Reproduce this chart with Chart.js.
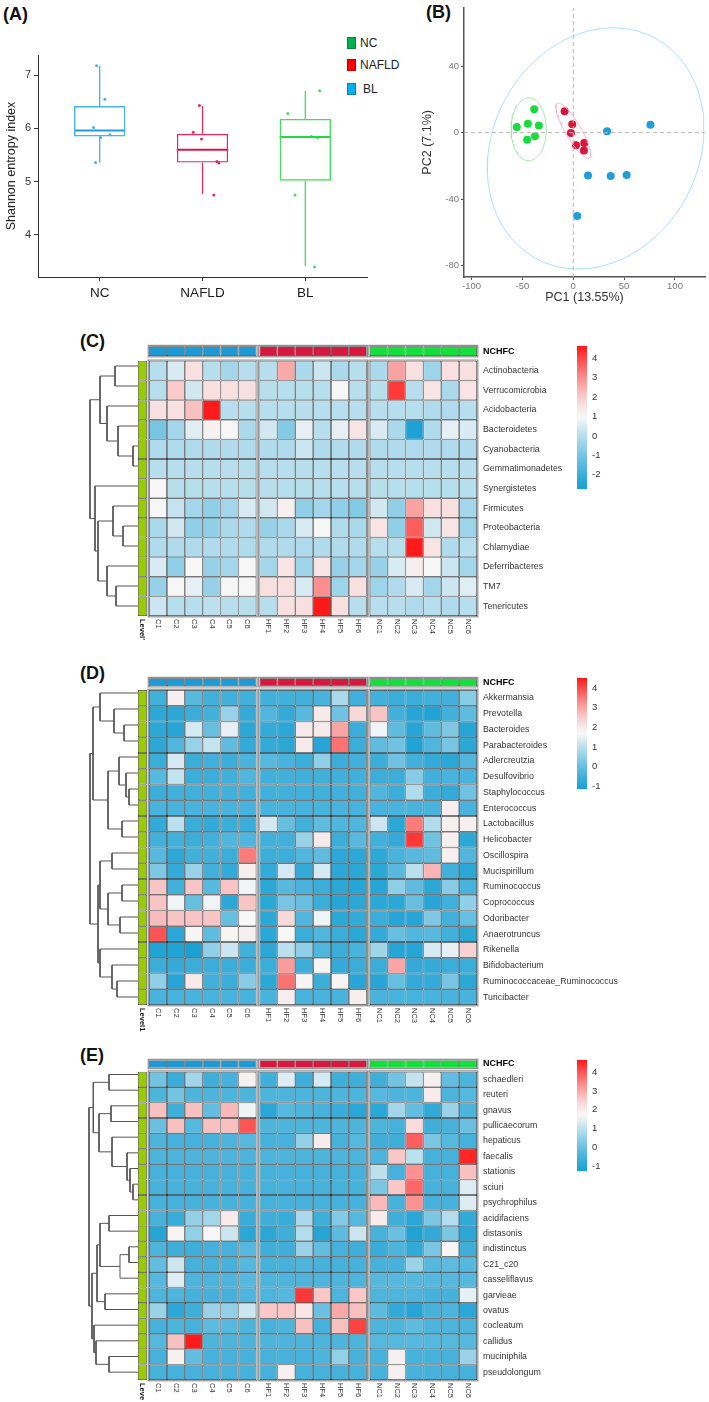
<!DOCTYPE html>
<html>
<head>
<meta charset="utf-8">
<script src="https://cdn.jsdelivr.net/npm/chart.js@4.4.0/dist/chart.umd.min.js"></script>
<style>
  body { margin: 0; background: #fff; width: 709px; height: 1402px; position: relative; overflow: hidden;
         font-family: "Liberation Sans", Arial, sans-serif; }
  canvas { position: absolute; }
  .tag { position: absolute; font-weight: bold; font-size: 18px; line-height: 1; color: #111; }
  .leg { position: absolute; font-size: 12px; line-height: 1; color: #222; }
  .leg i { position: absolute; left: -13px; top: 0; width: 7px; height: 10px; border: 0.5px solid rgba(0,0,0,0.25); }
</style>
</head>
<body>
<div class="tag" style="left:3px;top:5px">(A)</div>
<div class="tag" style="left:426px;top:3px">(B)</div>
<div class="tag" style="left:80px;top:332px">(C)</div>
<div class="tag" style="left:80px;top:664px">(D)</div>
<div class="tag" style="left:80px;top:1046px">(E)</div>

<div class="leg" style="left:360px;top:37px"><i style="background:#00b050"></i>NC</div>
<div class="leg" style="left:360px;top:59px"><i style="background:#ff0000"></i>NAFLD</div>
<div class="leg" style="left:363px;top:83px"><i style="background:#00b0f0;left:-16px"></i>BL</div>

<canvas id="boxChart" width="420" height="300" style="left:0;top:0"></canvas>
<canvas id="pcaChart" width="289" height="305" style="left:420px;top:0"></canvas>

<canvas id="dendroC" width="98" height="280" style="left:40px;top:336px"></canvas>
<canvas id="heatC" width="500" height="316" style="left:130px;top:330px"></canvas>
<canvas id="cbarC" width="45" height="165" style="left:570px;top:335px"></canvas>

<canvas id="dendroD" width="98" height="336" style="left:40px;top:669px"></canvas>
<canvas id="heatD" width="500" height="372" style="left:130px;top:663px"></canvas>
<canvas id="cbarD" width="45" height="133" style="left:570px;top:667px"></canvas>

<canvas id="dendroE" width="98" height="329" style="left:40px;top:1051px"></canvas>
<canvas id="heatE" width="500" height="357" style="left:130px;top:1045px"></canvas>
<canvas id="cbarE" width="45" height="133" style="left:570px;top:1049px"></canvas>

<script>
// ---- (A) Shannon entropy boxplot ----
const groups = ["NC", "NAFLD", "BL"];
const boxMin = [5.36, 4.77, 3.41];
const boxQ1 = [5.85, 5.36, 5.02];
const boxMedian = [5.96, 5.6, 5.84];
const boxQ3 = [6.42, 5.9, 6.18];
const boxMax = [7.18, 6.42, 6.71];
const ncValues = [7.18, 6.55, 6.02, 5.88, 5.83, 5.36];
const ncJitter = [-0.03, 0.05, -0.06, 0.1, 0.01, -0.04];
const nafldValues = [6.43, 5.93, 5.8, 5.38, 5.35, 4.75];
const nafldJitter = [-0.03, -0.09, -0.01, 0.14, 0.16, 0.11];
const blValues = [6.71, 6.28, 5.85, 5.83, 4.75, 3.4];
const blJitter = [0.14, -0.17, 0.06, 0.12, -0.1, 0.09];

// ---- (B) PCA ----
const pcaGreenX = [-55.5, -44.6, -38.4, -33.8, -37.7, -45.3];
const pcaGreenY = [3.4, 5.3, 14.1, 4.3, -2.2, -4.3];
const pcaRedX = [-8.5, -1, -2.3, 2.7, 10.8, 10.5];
const pcaRedY = [12.9, 5.1, -0.2, -7.6, -6.3, -10.8];
const pcaBlueX = [33.2, 75.9, 14.5, 36.8, 52.5, 3.9];
const pcaBlueY = [0.8, 4.7, -25.9, -26.1, -25.5, -50.2];
// ellipses: centre + two conjugate semi-axis vectors (green, red, blue)
const ellipseCx = [-43.8, 0, 22];
const ellipseCy = [2, 1.2, -9.5];
const ellipseAx = [17.3, 15.7, 106];
const ellipseAy = [0, -16.4, 5];
const ellipseBx = [0, 6.8, 10];
const ellipseBy = [19, 2.35, 72.5];

// ---- heatmaps ----
const colLabels = ["C1", "C2", "C3", "C4", "C5", "C6", "HF1", "HF2", "HF3", "HF4", "HF5", "HF6",
  "NC1", "NC2", "NC3", "NC4", "NC5", "NC6"];
const scaleLow = [-2.75, -1.15, -1.25];
const scaleHigh = [4.65, 4.53, 4.65];
const scaleTicks = [[-2, -1, 0, 1, 2, 3, 4], [-1, 0, 1, 2, 3, 4], [-1, 0, 1, 2, 3, 4]];

const phylumRows = ["Actinobacteria", "Verrucomicrobia", "Acidobacteria", "Bacteroidetes", "Cyanobacteria",
  "Gemmatimonadetes", "Synergistetes", "Firmicutes", "Proteobacteria", "Chlamydiae", "Deferribacteres", "TM7", "Tenericutes"];
const phylumValues = [
  [0, 0.5, 1.6, 0, -0.3, 0, 0, 2.6, -0.2, 0.3, -0.2, 0, -0.2, 2.7, 1.6, -0.4, 1.6, 1.6],
  [0, 2.0, 0.4, 1.6, 1.6, 1.6, 0, 0, 0, 0, 1.0, 0, 0, 4.2, 0, 1.5, -0.2, 1.5],
  [1.6, 1.6, 2.2, 4.6, 0, 0, 0, 0, 0, 0, 0, 0, 0, 0, 0, -0.1, -0.1, 0],
  [-1.0, -0.3, 0.6, 1.2, 1.0, -0.2, 0.4, -0.8, 0.7, 0, 0.7, 1.5, 0.5, -0.2, -2.6, -0.1, 0.7, 0.5],
  [-0.1, -0.1, -0.1, -0.1, -0.1, -0.1, -0.1, -0.1, 0.3, -0.1, -0.1, -0.1, -0.1, -0.1, -0.1, -0.1, -0.1, -0.1],
  [0, 0, 0, 0, 0, 0, 0, 0, 0, 0, 0, 0, 0, 0, 0, 0, 0, 0],
  [1.0, 0, 0, 0, 0, 0, 0, 0, 0, 0, 0, 0, 0, 0, 0, 0, 0, 0],
  [1.0, 0.2, -0.3, -0.6, -0.3, 0.5, 0.4, 1.2, -0.6, -0.3, -0.6, -0.8, 0.4, -0.6, 2.7, 1.6, 1.6, -0.3],
  [-0.2, 0.4, -0.6, -0.6, -0.2, -0.1, -0.5, -0.2, 0.5, 1.0, -0.1, -0.2, 1.5, -0.6, 3.7, 0.4, 1.5, -0.4],
  [-0.1, -0.1, -0.1, -0.1, -0.1, -0.1, -0.1, -0.1, -0.1, -0.1, -0.1, -0.1, 0, 0, 4.6, 1.5, -0.1, 0],
  [0.5, -0.6, 1.0, -0.5, -0.3, 1.0, -0.3, 1.5, -0.4, 1.5, -0.5, -0.3, -0.5, 0.5, 1.3, 1.0, 0.3, -0.3],
  [-0.5, 1.0, 0.7, -0.5, 1.0, 1.0, 1.6, 1.6, 0.5, 3.0, -0.4, 1.6, -0.4, -0.1, 0.5, -0.3, 0.3, 0.6],
  [0.3, 0, 0, 0.1, 0, 0, 0, 1.6, 1.6, 4.6, 1.6, 0, 0, 0, -0.1, 0, -0.1, 0],
];

const genusRows = ["Akkermansia", "Prevotella", "Bacteroides", "Parabacteroides", "Adlercreutzia", "Desulfovibrio",
  "Staphylococcus", "Enterococcus", "Lactobacillus", "Helicobacter", "Oscillospira", "Mucispirillum", "Ruminococcus",
  "Coprococcus", "Odoribacter", "Anaerotruncus", "Rikenella", "Bifidobacterium", "Ruminococcaceae_Ruminococcus", "Turicibacter"];
const genusValues = [
  [-0.5, 1.9, -0.2, -0.5, -0.5, -0.5, -0.5, -0.5, -0.5, -0.4, 0.8, -0.5, -0.5, -0.6, -0.6, -0.5, -0.5, 0.4],
  [-0.8, -0.8, -0.6, -0.5, 0.6, -0.7, -0.3, -0.7, -0.2, 2.0, 0.1, 2.3, 2.6, -0.5, -0.9, -1.0, -0.5, -0.1],
  [-0.8, -0.9, 1.3, 0.0, 1.5, -0.8, -0.7, -0.8, 2.0, 2.0, 3.0, -0.6, 1.6, -0.1, -0.9, -0.1, 0.3, -0.9],
  [-0.8, -0.3, 0.6, 1.1, -0.1, -0.7, -0.7, -0.8, 2.0, -0.9, 3.6, -0.6, -0.1, 0.1, -1.0, -0.3, 0.2, -0.8],
  [-0.6, 1.3, -0.6, -0.5, -0.6, -0.4, -0.2, -0.4, -0.6, 0.5, -0.6, -0.5, -0.6, 0.1, -0.5, -0.7, -0.8, -0.3],
  [-0.2, 1.1, -0.6, -0.6, -0.5, -0.3, -0.5, -0.5, -0.5, -0.5, -0.5, -0.5, -0.6, -0.6, 0.4, -0.5, -0.4, -0.4],
  [-0.6, -0.5, -0.5, -0.5, -0.5, -0.5, -0.5, -0.5, -0.5, -0.5, -0.5, -0.5, -0.3, -0.6, 0.9, -0.6, -0.7, 0.1],
  [-0.4, -0.4, -0.4, -0.4, -0.4, -0.4, -0.4, -0.4, -0.4, -0.4, -0.4, -0.4, -0.4, -0.4, -0.4, -0.4, 1.9, -0.4],
  [-0.7, 1.0, -0.6, -0.7, -0.6, -0.6, 1.3, 0.0, -0.5, -0.1, -0.3, -0.3, 1.2, -0.8, 3.5, 0.9, 1.9, 1.9],
  [-0.5, -0.5, -0.6, -0.5, -0.3, -0.3, -0.5, -0.5, 0.6, 2.0, -0.6, -0.2, -0.5, -0.7, 4.2, 0.1, 1.9, -0.8],
  [-0.2, -0.8, -0.5, -0.5, -0.6, 3.5, -0.6, -0.6, -0.3, -0.1, -0.8, -0.8, -0.8, -0.4, -0.2, -0.1, 1.9, -0.3],
  [0.3, -0.7, 0.6, -0.5, -0.7, 1.9, -0.7, 1.3, -0.7, 1.3, -0.8, -0.8, -0.8, -0.2, 1.0, 2.8, -0.5, -0.8],
  [2.6, -0.5, 2.6, -0.2, 2.6, 1.6, -0.8, -0.2, -0.4, -0.6, -0.8, -0.9, -0.9, 0.5, -0.1, -0.8, 0.4, -0.4],
  [2.6, 1.6, 0.0, 1.6, -0.8, 2.6, -0.8, 0.2, 0.0, -0.6, -0.9, -0.8, -0.8, -0.8, 0.0, -0.9, -0.5, 0.5],
  [2.7, 2.6, 2.6, 2.6, 0.0, 1.7, -0.8, 2.3, -0.3, 1.6, -0.8, -0.7, -0.6, -0.9, -0.9, 0.3, -0.5, 0.0],
  [3.9, -0.8, 1.8, -0.1, 1.8, 1.9, -0.8, 1.7, -0.6, -0.3, -0.6, -0.8, -0.7, 0.0, -0.3, -0.2, -0.5, -0.8],
  [-1.0, -1.0, -1.1, 0.5, 1.2, -0.5, -0.8, 1.0, 0.5, -0.3, -0.6, -0.4, 0.7, -0.9, -0.9, 1.3, 1.5, 2.4],
  [-0.6, -0.7, -0.6, -0.6, -0.6, -0.6, -0.6, 3.1, -0.6, 1.8, -0.7, -0.6, -0.6, 3.0, -0.7, -0.7, -0.6, -0.6],
  [0.5, -0.9, 2.0, -0.5, -0.6, 0.4, -0.8, 3.6, 1.8, -0.6, 1.8, -0.9, -0.9, 0.0, -0.7, -0.7, 0.2, -0.8],
  [-0.4, -0.4, -0.4, -0.4, -0.4, -0.4, -0.4, 1.9, -0.4, -0.4, -0.4, 1.9, -0.4, -0.4, -0.4, -0.4, -0.4, -0.4],
];

const speciesRows = ["schaedleri", "reuteri", "gnavus", "pullicaecorum", "hepaticus", "faecalis", "stationis", "sciuri",
  "psychrophilus", "acidifaciens", "distasonis", "indistinctus", "C21_c20", "casseliflavus", "garvieae", "ovatus",
  "cocleatum", "callidus", "muciniphila", "pseudolongum"];
const speciesValues = [
  [0.1, -0.7, 0.7, -0.6, -0.5, 1.9, -0.6, 1.4, -0.6, 1.3, -0.6, -0.6, -0.6, 0.1, 1.1, 1.9, -0.1, -0.4],
  [-0.4, 0.1, -0.4, -0.4, -0.4, -0.4, -0.4, -0.4, -0.4, -0.4, -0.4, -0.4, -0.3, -0.4, -0.4, 2.0, -0.4, -0.3],
  [2.7, -0.6, 2.7, -0.1, 2.8, 1.6, -0.9, -0.3, -0.4, -0.5, -0.7, -0.9, -0.9, 0.7, -0.1, -0.8, 0.6, -0.4],
  [0.0, 2.7, -0.3, 2.7, 2.7, 4.0, -0.4, -0.4, -0.4, -0.4, -0.4, -0.4, -0.4, -0.5, 2.3, -0.6, -0.5, 0.0],
  [-0.4, -0.5, -0.5, -0.5, -0.4, -0.3, -0.5, -0.5, 0.5, 2.0, -0.5, -0.3, -0.6, -0.6, 3.9, 0.2, -0.3, -0.5],
  [-0.4, -0.4, -0.4, -0.4, -0.4, -0.4, -0.4, -0.4, -0.4, -0.4, -0.4, -0.4, -0.4, 2.6, 1.0, -0.5, -0.5, 4.5],
  [-0.5, -0.5, -0.5, -0.5, -0.5, -0.5, -0.5, -0.5, -0.5, -0.5, -0.5, -0.5, 1.0, -0.5, 3.3, -0.5, -0.5, 2.7],
  [-0.5, -0.5, -0.5, -0.5, -0.5, -0.5, -0.5, -0.5, -0.5, -0.5, -0.5, -0.5, 0.2, 2.6, 3.8, -0.5, -0.5, 1.4],
  [-0.5, -0.5, -0.5, -0.5, -0.5, -0.5, -0.5, -0.5, -0.5, -0.5, -0.5, -0.5, 2.8, -0.5, 3.3, -0.5, -0.5, 1.4],
  [-0.5, -0.7, 0.5, 0.7, 2.0, -0.7, -0.6, -0.7, 0.8, -0.6, 0.3, -0.3, 2.0, -0.6, -0.9, 0.2, 0.9, -0.8],
  [-1.0, 1.8, 0.5, 1.7, 1.2, -0.9, -0.9, -0.6, 0.9, -1.0, -0.2, 1.2, -0.5, 0.0, -1.1, -0.8, 0.2, -0.9],
  [-0.4, -0.6, -0.6, -0.5, -0.5, -0.3, -0.6, -0.6, 0.6, -0.1, -0.5, -0.6, -0.7, -0.4, -0.8, 0.2, 1.8, -0.6],
  [-0.1, 1.2, -0.5, -0.5, -0.5, -0.3, -0.5, -0.5, -0.4, -0.5, -0.5, -0.5, -0.5, -0.5, 0.6, -0.3, -0.2, -0.3],
  [-0.3, 1.4, -0.4, -0.4, -0.4, -0.3, -0.4, -0.4, -0.4, -0.4, -0.4, -0.4, -0.3, -0.3, -0.3, -0.3, -0.3, -0.3],
  [-0.4, -0.4, -0.5, -0.5, -0.5, -0.4, -0.4, -0.3, 4.3, 2.6, -0.4, 2.6, -0.4, -0.4, -0.4, -0.5, -0.5, 1.5],
  [0.6, -0.9, -0.6, 0.6, 0.5, 1.2, 2.6, 2.6, 2.1, 0.0, 3.0, 2.7, -0.2, -0.8, -1.0, -0.5, -0.4, -0.9],
  [-0.5, -0.4, -0.5, -0.2, -0.3, -0.4, -0.5, -0.4, 2.7, -0.5, 2.7, 4.2, -0.4, -0.4, -0.2, -0.4, -0.4, -0.4],
  [-0.3, 2.7, 4.6, -0.4, -0.4, -0.4, -0.4, -0.4, -0.4, -0.4, -0.4, -0.4, -0.3, -0.3, -0.3, -0.3, -0.3, -0.3],
  [-0.5, 1.9, -0.1, -0.5, -0.5, -0.5, -0.5, -0.5, -0.5, -0.4, 0.5, -0.5, -0.5, 1.9, -0.5, -0.5, -0.5, 0.6],
  [-0.5, -0.5, -0.5, -0.5, -0.5, -0.5, -0.5, 1.9, -0.5, -0.5, -0.5, -0.5, -0.5, 1.9, -0.5, -0.5, -0.5, -0.5],
];

// row dendrograms, hclust style: negative = leaf (-(row+1)), positive = earlier merge; third entry = height
const dendroPhylum = [[-5, -6, 5], [-4, 1, 20], [-3, 2, 31], [-1, -2, 23], [4, 3, 38], [-9, -10, 15], [-8, 6, 25],
  [-12, -13, 22], [-11, 8, 31], [7, 9, 40], [-7, 10, 43], [5, 11, 48]];
const dendroGenus = [[-3, -4, 14], [-2, 1, 24], [-1, 2, 38], [-7, -8, 9], [-6, 4, 12], [-5, 5, 19], [-9, -10, 16],
  [6, 7, 30], [3, 8, 45], [-11, -12, 26], [-13, -14, 16], [-15, -16, 18], [11, 12, 30], [10, 13, 38], [-19, -20, 21],
  [-18, 15, 26], [-17, 16, 38], [14, 17, 40], [9, 18, 48]];
const dendroSpecies = [[-1, -2, 29], [-3, -4, 27], [-8, -9, 5], [-7, 3, 8], [-6, 4, 11], [-5, 5, 26], [2, 6, 39],
  [1, 7, 44.7], [-10, -11, 29], [-12, -13, 9], [-14, 10, 18], [9, 11, 38], [-15, -16, 33], [12, 13, 41], [-19, -20, 29],
  [-18, 15, 42], [-17, 16, 44], [14, 17, 46], [8, 18, 49]];

// ---- styling / layout ----
const boxColors = ["#46b4e6", "#e42c5f", "#40e05a"];
const boxDark = ["#1f9cd8", "#d8164a", "#20d842"];
const annotationColors = ["#1b9ad6", "#d7193f", "#14e03c"];
const BLUE = [24, 160, 212];
const WHITE = [247, 247, 247];
const RED = [255, 22, 22];
const GROUP_START = [0.62, 6.8, 12.97];
const X_END = 18.97;
const LEVEL_SPAN = [0, 0.5];
const BOX_HALF = 0.25;

Chart.defaults.font.family = '"Liberation Sans", Arial, sans-serif';
Chart.defaults.animation = false;
Chart.defaults.responsive = false;
Chart.defaults.plugins.legend.display = false;
Chart.defaults.plugins.tooltip.enabled = false;

function mixColor(a, b, f) {
  const c = a.map((v, i) => Math.round(v + (b[i] - v) * f));
  return `rgb(${c[0]},${c[1]},${c[2]})`;
}

function heatColor(v, lo, hi) {
  const mid = (lo + hi) / 2;
  if (v <= mid) {
    const t = Math.max(0, (v - lo) / (mid - lo));
    return mixColor(BLUE, WHITE, Math.pow(t, 1.15));
  }
  const t = Math.min(1, (v - mid) / (hi - mid));
  return mixColor(WHITE, RED, Math.pow(t, 1.3));
}

// ---------- (A) boxplot ----------
const groupValues = [ncValues, nafldValues, blValues];
const groupJitter = [ncJitter, nafldJitter, blJitter];

const boxDatasets = [
  {
    type: "bar",
    data: groups.map((g, i) => ({ x: i + 1, y: [boxQ1[i], boxQ3[i]] })),
    backgroundColor: "rgba(255,255,255,0)",
    borderColor: boxColors,
    borderWidth: 1.4,
    borderSkipped: false,
    inflateAmount: 0,
    grouped: false,
    barPercentage: 0.5,
    categoryPercentage: 1,
  },
];
groups.forEach((g, i) => {
  boxDatasets.push({
    type: "line",
    data: [
      { x: i + 1, y: boxMin[i] }, { x: i + 1, y: boxQ1[i] }, { x: i + 1, y: null },
      { x: i + 1, y: boxQ3[i] }, { x: i + 1, y: boxMax[i] },
    ],
    borderColor: boxColors[i],
    borderWidth: 1.3,
    pointRadius: 0,
    spanGaps: false,
  });
  boxDatasets.push({
    type: "line",
    data: [{ x: i + 1 - BOX_HALF, y: boxMedian[i] }, { x: i + 1 + BOX_HALF, y: boxMedian[i] }],
    borderColor: boxDark[i],
    borderWidth: 2,
    pointRadius: 0,
  });
  boxDatasets.push({
    type: "scatter",
    data: groupValues[i].map((v, k) => ({ x: i + 1 + groupJitter[i][k], y: v })),
    backgroundColor: boxColors[i],
    borderWidth: 0,
    pointRadius: 1.5,
  });
});

new Chart(document.getElementById("boxChart"), {
  type: "bar",
  data: { datasets: boxDatasets },
  options: {
    layout: { padding: { top: 55, right: 53, left: 0, bottom: 0 } },
    scales: {
      x: {
        type: "linear",
        offset: false,
        min: 0.4,
        max: 3.6,
        afterBuildTicks: (s) => { s.ticks = groups.map((g, i) => ({ value: i + 1 })); },
        ticks: { callback: (v) => groups[v - 1], font: { size: 13.5 }, color: "#1a1a1a", padding: 4, maxRotation: 0, autoSkip: false },
        grid: { offset: false, drawOnChartArea: false, tickLength: 4, color: "#333" },
        border: { color: "#333", width: 1 },
        afterFit: (s) => { s.height = 23; },
      },
      y: {
        min: 3.21,
        max: 7.38,
        ticks: { stepSize: 1, includeBounds: false, font: { size: 11 }, color: "#333", padding: 3 },
        grid: { drawOnChartArea: false, tickLength: 4, color: "#333" },
        border: { color: "#333", width: 1 },
        title: { display: true, text: "Shannon entropy index", font: { size: 12.5 }, color: "#222", padding: { top: 4, bottom: 0 } },
        afterFit: (s) => { s.width = 38; },
      },
    },
  },
});

// ---------- (B) PCA ----------
function ellipsePoints(k) {
  const pts = [];
  for (let s = 0; s <= 90; s++) {
    const t = (s / 90) * Math.PI * 2;
    pts.push({
      x: ellipseCx[k] + ellipseAx[k] * Math.cos(t) + ellipseBx[k] * Math.sin(t),
      y: ellipseCy[k] + ellipseAy[k] * Math.cos(t) + ellipseBy[k] * Math.sin(t),
    });
  }
  return pts;
}
const PCA_X = [-107.4, 129.5];
const PCA_Y = [-87, 75.3];
const ellipseColors = ["#a2e8aa", "#f3b3c4", "#ace0f2"];
const pointColors = ["#1bdc3e", "#dc143c", "#1e9fdc"];
const pcaSets = [[pcaGreenX, pcaGreenY], [pcaRedX, pcaRedY], [pcaBlueX, pcaBlueY]];

new Chart(document.getElementById("pcaChart"), {
  type: "scatter",
  data: {
    datasets: [
      { type: "line", data: [{ x: PCA_X[0], y: 0 }, { x: PCA_X[1], y: 0 }], borderColor: "#b5b5b5", borderWidth: 1, borderDash: [4, 3], pointRadius: 0 },
      { type: "line", data: [{ x: 0, y: PCA_Y[0] }, { x: 0, y: PCA_Y[1] }], borderColor: "#b5b5b5", borderWidth: 1, borderDash: [4, 3], pointRadius: 0 },
      ...[0, 1, 2].map((k) => ({
        type: "line", data: ellipsePoints(k), borderColor: ellipseColors[k], borderWidth: 1, pointRadius: 0, tension: 0,
      })),
      ...pcaSets.map(([xs, ys], k) => ({
        type: "scatter", data: xs.map((x, i) => ({ x, y: ys[i] })), backgroundColor: pointColors[k], borderWidth: 0, pointRadius: 4,
      })),
    ],
  },
  options: {
    layout: { padding: { top: 1, right: 4, left: 0, bottom: 0 } },
    scales: {
      x: {
        type: "linear", min: PCA_X[0], max: PCA_X[1],
        ticks: { stepSize: 50, includeBounds: false, font: { size: 9.5 }, color: "#777", padding: 1 },
        grid: { drawOnChartArea: false, tickLength: 3, color: "#555" },
        border: { color: "#555", width: 1.5 },
        title: { display: true, text: "PC1 (13.55%)", font: { size: 12.5 }, color: "#333", padding: 0 },
        afterFit: (s) => { s.height = 28; },
      },
      y: {
        min: PCA_Y[0], max: PCA_Y[1],
        ticks: { stepSize: 40, includeBounds: false, font: { size: 9.5 }, color: "#777", padding: 2 },
        grid: { drawOnChartArea: false, tickLength: 3, color: "#555" },
        border: { color: "#555", width: 1.5 },
        title: { display: true, text: "PC2 (7.1%)", font: { size: 12.5 }, color: "#333", padding: 0 },
        afterFit: (s) => { s.width = 44; },
      },
    },
  },
});

// ---------- dendrograms ----------
function dendroSegments(merges) {
  const nodeY = [], nodeH = [], pts = [];
  const pos = (k) => (k < 0 ? { y: -k - 1, h: 0 } : { y: nodeY[k - 1], h: nodeH[k - 1] });
  merges.forEach(([a, b, h], i) => {
    const pa = pos(a), pb = pos(b);
    pts.push({ x: pa.h, y: pa.y }, { x: h, y: pa.y }, { x: h, y: pb.y }, { x: pb.h, y: pb.y }, { x: null, y: null });
    nodeY[i] = (pa.y + pb.y) / 2;
    nodeH[i] = h;
  });
  return pts;
}

function makeDendrogram(id, merges, leafCount) {
  return new Chart(document.getElementById(id), {
    type: "line",
    data: {
      datasets: [{ data: dendroSegments(merges), borderColor: "#555", borderWidth: 1, pointRadius: 0, spanGaps: false, tension: 0 }],
    },
    options: {
      layout: { padding: 0 },
      scales: {
        x: { type: "linear", min: 0, max: 98, reverse: true, display: false },
        y: { type: "linear", min: -1.5, max: leafCount - 0.5, reverse: true, display: false },
      },
    },
  });
}

// ---------- heatmaps ----------
function makeHeatmap(id, rows, values, lo, hi, levelText, padBottom) {
  const labels = ["NCHFC"].concat(rows);
  const colStart = (c) => GROUP_START[Math.floor(c / 6)] + (c % 6);
  const cells = [], cellColors = [];
  rows.forEach((r, i) => {
    values[i].forEach((v, c) => {
      cells.push({ x: [colStart(c), colStart(c) + 1], y: r });
      cellColors.push(heatColor(v, lo, hi));
    });
  });
  const annot = colLabels.map((n, c) => ({ x: [colStart(c), colStart(c) + 1], y: "NCHFC" }));
  const annotColors = colLabels.map((n, c) => annotationColors[Math.floor(c / 6)]);
  const level = rows.map((r) => ({ x: LEVEL_SPAN, y: r }));
  const common = { borderSkipped: false, inflateAmount: 0, grouped: false, categoryPercentage: 1 };

  const framePlugin = {
    id: "groupFrames",
    afterDatasetsDraw(chart) {
      const { ctx, chartArea } = chart;
      const { x, y } = chart.scales;
      const slot = y.getPixelForValue(1) - y.getPixelForValue(0);
      ctx.save();
      ctx.strokeStyle = "#8f8f8f";
      ctx.lineWidth = 1.2;
      GROUP_START.forEach((g) => {
        const x0 = x.getPixelForValue(g) - 0.8;
        const x1 = x.getPixelForValue(g + 6) + 0.8;
        ctx.strokeRect(x0, y.getPixelForValue(0) - slot / 4 - 0.8, x1 - x0, slot / 2 + 1.6);
        const top = y.getPixelForValue(0.5);
        ctx.strokeRect(x0, top - 0.8, x1 - x0, chartArea.bottom - top + 1.6);
      });
      ctx.restore();
    },
    afterDraw(chart) {
      const { ctx, chartArea } = chart;
      const { x } = chart.scales;
      ctx.save();
      ctx.fillStyle = "#333";
      ctx.textBaseline = "middle";
      ctx.textAlign = "left";
      ctx.font = '7.5px "Liberation Sans", Arial, sans-serif';
      colLabels.forEach((n, c) => {
        ctx.save();
        ctx.translate(x.getPixelForValue(colStart(c) + 0.5), chartArea.bottom + 3);
        ctx.rotate(Math.PI / 2);
        ctx.fillText(n, 0, 0);
        ctx.restore();
      });
      ctx.font = 'bold 7.5px "Liberation Sans", Arial, sans-serif';
      ctx.fillStyle = "#111";
      ctx.translate(x.getPixelForValue((LEVEL_SPAN[0] + LEVEL_SPAN[1]) / 2), chartArea.bottom + 3);
      ctx.rotate(Math.PI / 2);
      ctx.fillText(levelText, 0, 0);
      ctx.restore();
    },
  };

  return new Chart(document.getElementById(id), {
    type: "bar",
    data: {
      labels,
      datasets: [
        { ...common, data: cells, backgroundColor: cellColors, borderColor: "#1a1a1a", borderWidth: 0.7, barPercentage: 1 },
        { ...common, data: annot, backgroundColor: annotColors, borderColor: "#333", borderWidth: 0.7, barPercentage: 0.5 },
        { ...common, data: level, backgroundColor: "#99cc00", borderColor: "#333", borderWidth: 0.7, barPercentage: 1 },
      ],
    },
    options: {
      indexAxis: "y",
      layout: { padding: { left: 8, top: 6, right: 0, bottom: padBottom } },
      scales: {
        x: { type: "linear", min: 0, max: X_END, display: false },
        y: {
          type: "category",
          position: "right",
          grid: { display: false, drawTicks: false },
          border: { display: false },
          ticks: {
            autoSkip: false,
            padding: 6,
            font: (c) => (c.index === 0 ? { size: 9, weight: "bold" } : { size: 8.8 }),
            color: (c) => (c.index === 0 ? "#000" : "#333"),
          },
          afterFit: (s) => { s.width = 153; },
        },
      },
    },
    plugins: [framePlugin],
  });
}

// ---------- colour keys ----------
function makeColorbar(id, lo, hi, ticks) {
  return new Chart(document.getElementById(id), {
    type: "bar",
    data: {
      labels: ["key"],
      datasets: [{
        data: [[lo, hi]],
        backgroundColor: (c) => {
          const chart = c.chart;
          const ys = chart.scales.y;
          if (!chart.chartArea || !ys) return "#fff";
          const grad = chart.ctx.createLinearGradient(0, ys.getPixelForValue(lo), 0, ys.getPixelForValue(hi));
          for (let k = 0; k <= 24; k++) {
            grad.addColorStop(k / 24, heatColor(lo + ((hi - lo) * k) / 24, lo, hi));
          }
          return grad;
        },
        borderWidth: 0,
        barPercentage: 1,
        categoryPercentage: 1,
        inflateAmount: 0,
      }],
    },
    options: {
      layout: { padding: { left: 7, top: 7, right: 0, bottom: 9 } },
      scales: {
        x: { display: false },
        y: {
          position: "right",
          min: lo,
          max: hi,
          afterBuildTicks: (s) => { s.ticks = ticks.map((v) => ({ value: v })); },
          ticks: { font: { size: 9.5 }, color: "#333", padding: 5 },
          grid: { display: false, drawTicks: false },
          border: { display: false },
          afterFit: (s) => { s.width = 28; },
        },
      },
    },
  });
}

makeDendrogram("dendroC", dendroPhylum, phylumRows.length);
makeDendrogram("dendroD", dendroGenus, genusRows.length);
makeDendrogram("dendroE", dendroSpecies, speciesRows.length);

makeHeatmap("heatC", phylumRows, phylumValues, scaleLow[0], scaleHigh[0], "Level'", 30);
makeHeatmap("heatD", genusRows, genusValues, scaleLow[1], scaleHigh[1], "Level1", 30);
makeHeatmap("heatE", speciesRows, speciesValues, scaleLow[2], scaleHigh[2], "Leve", 22);

makeColorbar("cbarC", scaleLow[0], scaleHigh[0], scaleTicks[0]);
makeColorbar("cbarD", scaleLow[1], scaleHigh[1], scaleTicks[1]);
makeColorbar("cbarE", scaleLow[2], scaleHigh[2], scaleTicks[2]);
</script>
</body>
</html>
